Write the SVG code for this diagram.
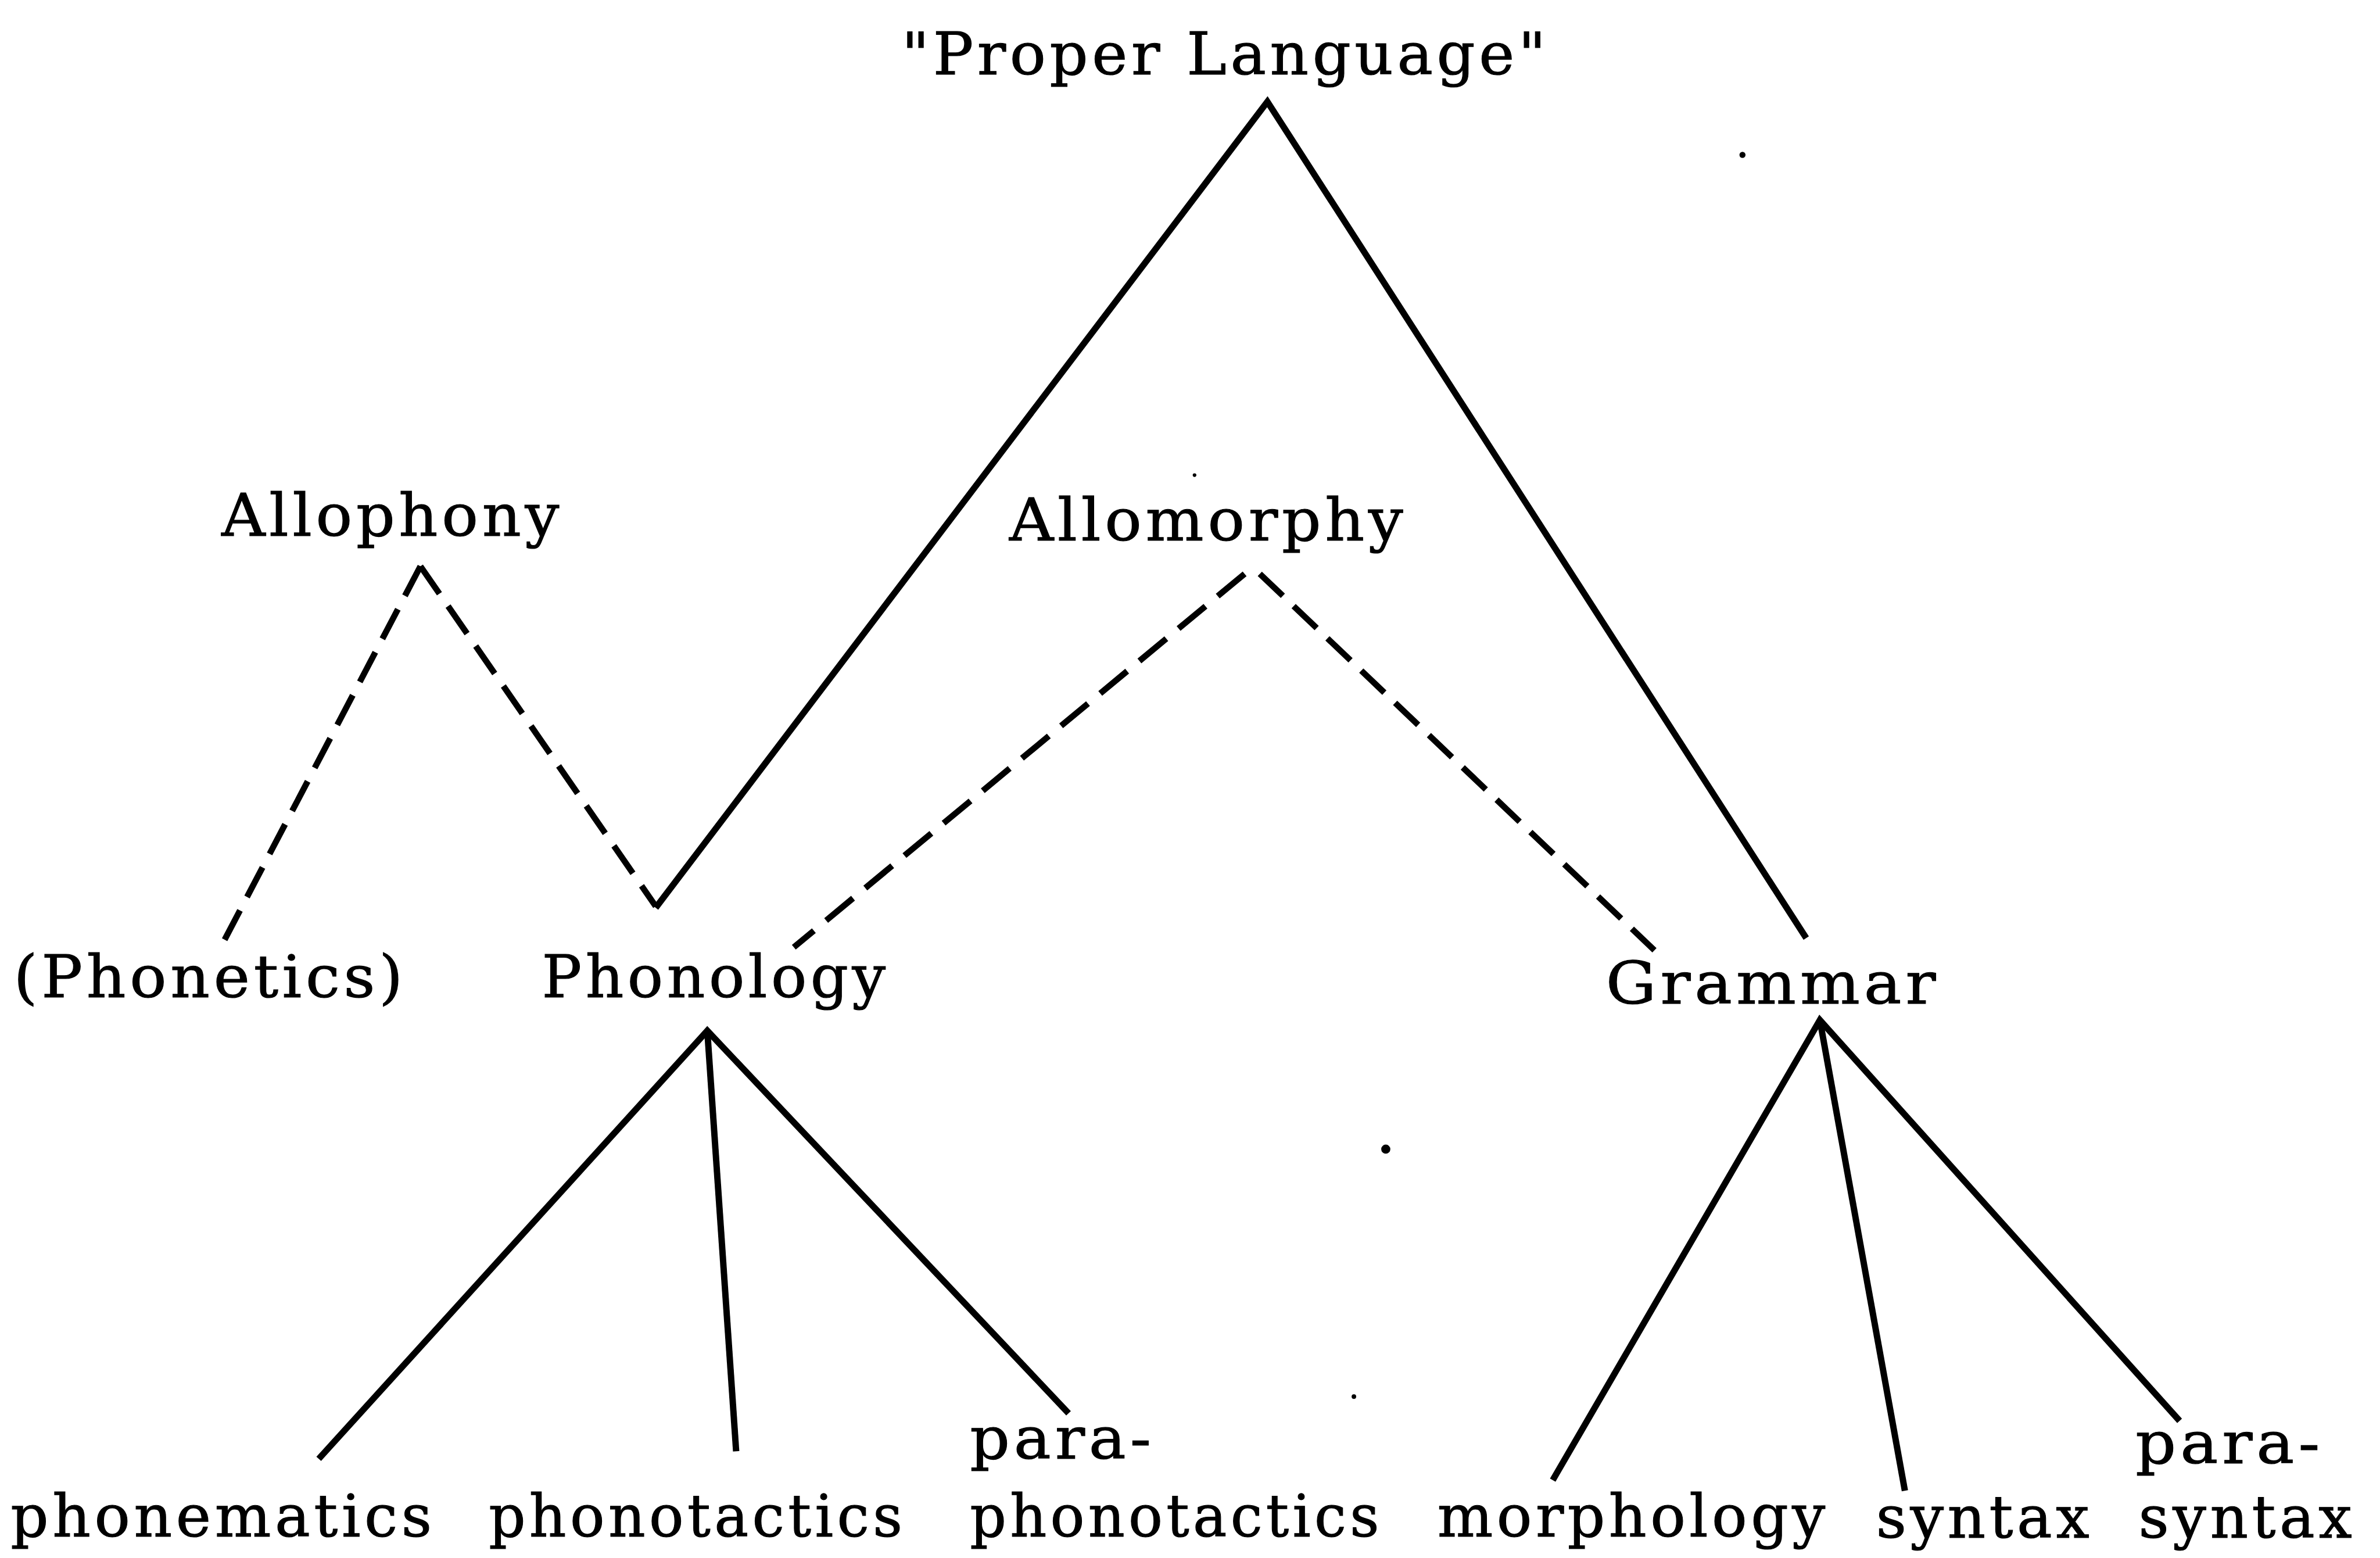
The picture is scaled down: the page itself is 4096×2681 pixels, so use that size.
<svg xmlns="http://www.w3.org/2000/svg" width="4096" height="2681" viewBox="0 0 4096 2681">
<style>
.t{font-family:"DejaVu Serif","Liberation Serif",serif;font-size:39px;letter-spacing:2.5px;fill:#000;stroke:#000;stroke-width:0.45}
.s{fill:none;stroke:#000;stroke-width:4.2;stroke-linejoin:miter;stroke-linecap:butt}
.d{fill:none;stroke:#000;stroke-width:4;stroke-dasharray:22 10;stroke-linecap:butt}
</style>
<rect width="4096" height="2681" fill="#fff"/>
<g transform="scale(2.6122)">
<g id="connectors">
<polyline class="s" points="432,598 835,67 1190,618"/>
<line class="d" x1="277" y1="373" x2="148" y2="619"/>
<line class="d" x1="277" y1="373" x2="432" y2="597"/>
<line class="d" x1="820" y1="378" x2="523" y2="624" style="stroke-dasharray:23 10.5"/>
<line class="d" x1="830" y1="378" x2="1090" y2="626" style="stroke-dasharray:21 9.8"/>
<polyline class="s" points="210,961 466,679 704,931"/>
<line class="s" x1="466" y1="679" x2="485" y2="956"/>
<polyline class="s" points="1023,975 1199,672 1436,936"/>
<line class="s" x1="1199" y1="672" x2="1255" y2="982"/>
</g>
<g id="node-proper-language"><text class="t" x="594" y="49" textLength="427" lengthAdjust="spacingAndGlyphs">"Proper Language"</text></g>
<g id="node-allophony"><text class="t" x="146" y="353" textLength="225" lengthAdjust="spacingAndGlyphs">Allophony</text></g>
<g id="node-allomorphy"><text class="t" x="665" y="356" textLength="262" lengthAdjust="spacingAndGlyphs">Allomorphy</text></g>
<g id="node-phonetics"><text class="t" x="9" y="657" textLength="259" lengthAdjust="spacingAndGlyphs">(Phonetics)</text></g>
<g id="node-phonology"><text class="t" x="357" y="657" textLength="229" lengthAdjust="spacingAndGlyphs">Phonology</text></g>
<g id="node-grammar"><text class="t" x="1058" y="661" textLength="220" lengthAdjust="spacingAndGlyphs">Grammar</text></g>
<g id="node-phonematics"><text class="t" x="7" y="1012" textLength="280" lengthAdjust="spacingAndGlyphs">phonematics</text></g>
<g id="node-phonotactics"><text class="t" x="322" y="1012" textLength="275" lengthAdjust="spacingAndGlyphs">phonotactics</text></g>
<g id="node-paraphonotactics"><text class="t" x="639" y="961" textLength="122" lengthAdjust="spacingAndGlyphs">para-</text><text class="t" x="639" y="1012" textLength="272" lengthAdjust="spacingAndGlyphs">phonotactics</text></g>
<g id="node-morphology"><text class="t" x="947" y="1012" textLength="258" lengthAdjust="spacingAndGlyphs">morphology</text></g>
<g id="node-syntax"><text class="t" x="1236" y="1013" textLength="143" lengthAdjust="spacingAndGlyphs">syntax</text></g>
<g id="node-parasyntax"><text class="t" x="1407" y="964" textLength="124" lengthAdjust="spacingAndGlyphs">para-</text><text class="t" x="1409" y="1013" textLength="143" lengthAdjust="spacingAndGlyphs">syntax</text></g>
<circle cx="913" cy="757" r="3"/>
<circle cx="1148" cy="102" r="2"/>
<circle cx="892" cy="920" r="1.5"/>
<circle cx="787" cy="313" r="1.2"/>
</g>
</svg>
